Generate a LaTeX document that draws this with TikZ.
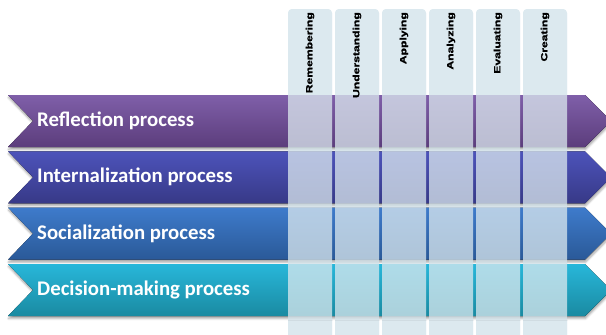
\documentclass[tikz,border=0pt]{standalone}
\usepackage{fontspec}
\setmainfont{Carlito}
\newfontfamily\headfont{Liberation Sans Bold}[FakeBold=1.3]
\usetikzlibrary{shadows.blur}

% band colours (top / bottom of each gradient)
\definecolor{refTop}{HTML}{7F5FA9}\definecolor{refBot}{HTML}{5C3D7C}
\definecolor{intTop}{HTML}{4D53BA}\definecolor{intBot}{HTML}{373987}
\definecolor{socTop}{HTML}{3E7BCB}\definecolor{socBot}{HTML}{2A5998}
\definecolor{decTop}{HTML}{28B7DA}\definecolor{decBot}{HTML}{1A8AA1}
\definecolor{colfill}{HTML}{DCE9EF}

\tikzset{
  bandlabel/.style={anchor=west, inner sep=0pt, text=white,
    font=\bfseries\fontsize{20.8}{24}\selectfont},
  collabel/.style={rotate=90, anchor=east, inner sep=0pt, text=black,
    font=\headfont\fontsize{9}{10}\selectfont},
  bandshadow/.style={blur shadow={shadow xshift=0.5pt, shadow yshift=-2.5pt,
    shadow blur radius=2pt, shadow opacity=35}},
}

% chevron band: #1 top y, #2 top colour, #3 bottom colour
\newcommand{\chevband}[3]{%
  \fill[bandshadow, top color=#2, bottom color=#3]
    (8,#1) -- (585,#1) -- (611,#1+26) -- (585,#1+52) -- (8,#1+52)
    -- (33,#1+26) -- cycle;}

% one column strip: #2 left x
\newcommand{\colstrip}[2][]{%
  \fill[colfill, rounded corners=4pt, #1] (#2,345) -- (#2,9) -- (#2+44,9) -- (#2+44,345);}

% column heading text, stretched along its length
\newcommand{\headtext}[1]{\scalebox{1.35}[1]{#1}}

\begin{document}
\begin{tikzpicture}[x=1pt, y=-1pt]
  \useasboundingbox (0,0) rectangle (606,335);
  \clip (0,0) rectangle (606,335);

  % columns behind the bands
  \foreach \cx in {288,335,382,429,476,523} {\colstrip{\cx}}

  % the four process bands
  \chevband{95}{refTop}{refBot}
  \chevband{151.3}{intTop}{intBot}
  \chevband{207.6}{socTop}{socBot}
  \chevband{264}{decTop}{decBot}

  % columns again, translucent over the bands
  \foreach \cx in {288,335,382,429,476,523} {\colstrip[fill opacity=0.75]{\cx}}

  % band labels
  \node[bandlabel] (reflection)  at (37,121)   {Reflection process};
  \node[bandlabel] (internal)    at (37,177.3) {Internalization process};
  \node[bandlabel] (social)      at (37,233.6) {Socialization process};
  \node[bandlabel] (decision)    at (37,290)   {Decision-making process};

  % column headings
  \node[collabel] (remembering)   at (310,12) {\headtext{Remembering}};
  \node[collabel] (understanding) at (357,12) {\headtext{Understanding}};
  \node[collabel] (applying)      at (404,12) {\headtext{Applying}};
  \node[collabel] (analyzing)     at (451,12) {\headtext{Analyzing}};
  \node[collabel] (evaluating)    at (498,12) {\headtext{Evaluating}};
  \node[collabel] (creating)      at (545,12) {\headtext{Creating}};
\end{tikzpicture}
\end{document}
